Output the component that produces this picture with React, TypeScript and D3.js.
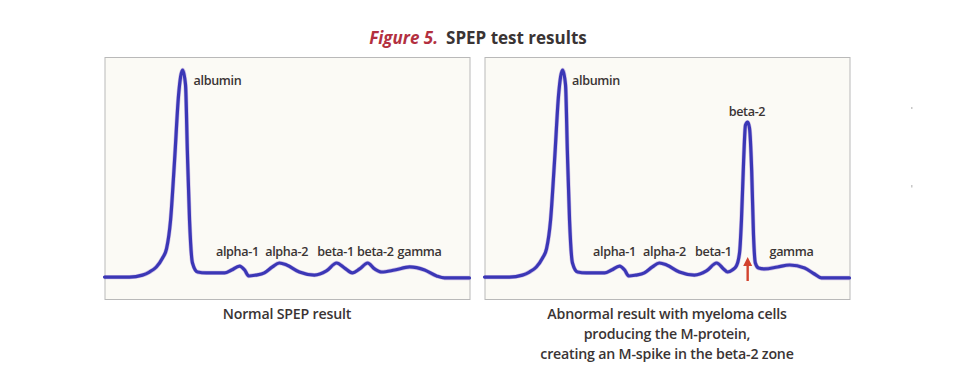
import React, { useEffect } from 'react';
import * as d3 from 'd3';

// SPEP traces: [migration position 0..100, relative absorbance 0..100]
const normalTrace: [number, number][] = [
  [0, 3.6], [6.8, 3.6], [10.4, 4.5], [12.3, 5.9], [14.2, 8.2], [15.9, 12.3],
  [17.0, 16.5], [18.1, 29.5], [19.2, 56.8], [20.3, 86.4], [21.4, 97.7],
  [22.2, 90.9], [22.7, 61], [23.3, 29.5], [24.1, 10], [25.5, 5.9], [27.9, 5.5],
  [32.9, 5.5], [34.8, 6.8], [37, 8.6], [38.4, 6.8], [39.5, 4.1], [41.4, 4.5],
  [43.8, 5.5], [46, 8.2], [47.9, 10], [49.9, 9.1], [53.4, 5.9], [57.5, 4.5],
  [60.8, 6.4], [63.6, 10], [65.8, 7.7], [67.9, 5.5], [69.9, 7.3], [72.1, 10],
  [74, 7.3], [75.9, 5.9], [79.5, 6.8], [83.6, 8.2], [87.7, 6.8], [91, 4.1],
  [93.2, 3.2], [100, 3.2],
];

const abnormalTrace: [number, number][] = [
  [0, 3.6], [6.8, 3.6], [10.4, 4.5], [12.3, 5.9], [14.2, 8.2], [15.9, 12.3],
  [17.0, 16.5], [18.1, 29.5], [19.2, 56.8], [20.3, 86.4], [21.4, 97.7],
  [22.2, 90.9], [22.7, 61], [23.3, 29.5], [24.1, 10], [25.5, 5.9], [27.9, 5.5],
  [32.9, 5.5], [34.8, 6.8], [37, 8.6], [38.4, 6.8], [39.5, 4.1], [41.4, 4.5],
  [43.8, 5.5], [46, 8.2], [47.9, 10], [49.9, 9.1], [53.4, 5.9], [57.5, 4.5],
  [60.8, 6.4], [63.6, 10], [65.5, 7.3], [66.6, 5.9], [67.9, 6.8], [69, 8.6],
  [69.9, 15], [70.4, 29.5], [71, 56.8], [71.5, 72.7], [72.1, 74], [72.6, 71.4],
  [73.2, 52], [73.7, 22.7], [74.2, 10], [75.1, 7.7], [76.7, 7.3], [80.3, 8.2],
  [83.6, 9.1], [87.7, 7.7], [90.4, 5], [92.3, 3.2], [100, 3.2],
];

// fraction labels: name, migration position, row
const normalLabels = [
  { name: 'albumin', pos: 24.4, row: 'top', anchor: 'start' },
  { name: 'alpha-1', pos: 36.4, row: 'bottom', anchor: 'middle' },
  { name: 'alpha-2', pos: 49.9, row: 'bottom', anchor: 'middle' },
  { name: 'beta-1', pos: 63.3, row: 'bottom', anchor: 'middle' },
  { name: 'beta-2', pos: 74.2, row: 'bottom', anchor: 'middle' },
  { name: 'gamma', pos: 86.3, row: 'bottom', anchor: 'middle' },
];

const abnormalLabels = [
  { name: 'albumin', pos: 24.0, row: 'top', anchor: 'start' },
  { name: 'alpha-1', pos: 35.6, row: 'bottom', anchor: 'middle' },
  { name: 'alpha-2', pos: 49.3, row: 'bottom', anchor: 'middle' },
  { name: 'beta-1', pos: 62.7, row: 'bottom', anchor: 'middle' },
  { name: 'beta-2', pos: 71.9, row: 'spike', anchor: 'middle' },
  { name: 'gamma', pos: 84.1, row: 'bottom', anchor: 'middle' },
];

const normalCaption = ['Normal SPEP result'];
const abnormalCaption = [
  'Abnormal result with myeloma cells',
  'producing the M-protein,',
  'creating an M-spike in the beta-2 zone',
];

const mSpikePos = 72.1;

const W = 980;
const H = 392;
const panelW = 365;
const panelTop = 57;
const panelH = 242;
const FONT = '"Open Sans", "Noto Sans", sans-serif';
const TEXT = '#3a3434';
const LINE = '#3b37b6';

type Label = { name: string; pos: number; row: string; anchor: string };

const Panel: React.FC<{
  x0: number;
  trace: [number, number][];
  labels: Label[];
  caption: string[];
  arrow?: boolean;
}> = ({ x0, trace, labels, caption, arrow }) => {
  const x = d3.scaleLinear().domain([0, 100]).range([x0, x0 + panelW]);
  const y = d3.scaleLinear().domain([0, 100]).range([285, 65]);
  const line = d3
    .line<[number, number]>()
    .x((d) => x(d[0]))
    .y((d) => y(d[1]))
    .curve(d3.curveMonotoneX);

  const rowY = (row: string) => (row === 'top' ? 84.5 : row === 'spike' ? 116 : 255.5);
  const capX = x0 + panelW / 2;

  return (
    <g>
      <rect x={x0 + 0.5} y={panelTop + 0.5} width={panelW} height={panelH} fill="#fbfaf5" stroke="#b9b9b9" strokeWidth={1} />
      <path d={line(trace) || ''} fill="none" stroke="#7a4fc8" strokeOpacity={0.35} strokeWidth={4.4} strokeLinejoin="round" />
      <path d={line(trace) || ''} fill="none" stroke={LINE} strokeWidth={3.2} strokeLinejoin="round" strokeLinecap="round" />
      {labels.map((l) => (
        <text
          key={l.name}
          x={x(l.pos)}
          y={rowY(l.row)}
          textAnchor={l.anchor as any}
          fontFamily={FONT}
          fontWeight={600}
          fontSize={12.6}
          letterSpacing={-0.35}
          fill={TEXT}
        >
          {l.name}
        </text>
      ))}
      {arrow && (
        <g fill="#d2432f" stroke="none">
          <rect x={x(mSpikePos) - 1.2} y={265} width={2.4} height={16} />
          <path d={`M${x(mSpikePos) - 4.5},266 L${x(mSpikePos)},257 L${x(mSpikePos) + 4.5},266 Z`} />
        </g>
      )}
      {caption.map((c, i) => (
        <text
          key={c}
          x={capX}
          y={318.5 + i * 20}
          textAnchor="middle"
          fontFamily={FONT}
          fontWeight={600}
          fontSize={14.2}
          letterSpacing={-0.2}
          fill={TEXT}
        >
          {c}
        </text>
      ))}
    </g>
  );
};

const App: React.FC = () => {
  useEffect(() => {
    document.body.style.margin = '0';
  }, []);

  return (
    <svg width={W} height={H} viewBox={`0 0 ${W} ${H}`} style={{ display: 'block', background: '#fff' }}>
      <text x={478} y={43.5} textAnchor="middle" fontFamily={FONT} fontSize={17} fontWeight={700}>
        <tspan fill="#b3303f" fontStyle="italic">Figure 5.</tspan>
        <tspan fill={TEXT} dx={8}>SPEP test results</tspan>
      </text>
      <Panel x0={104.5} trace={normalTrace} labels={normalLabels} caption={normalCaption} />
      <Panel x0={484.5} trace={abnormalTrace} labels={abnormalLabels} caption={abnormalCaption} arrow />
      <rect x={911} y={107} width={1.5} height={2} fill="#c8c8c8" />
      <rect x={911} y={185} width={1.5} height={2.5} fill="#c8c8c8" />
    </svg>
  );
};

export default App;
